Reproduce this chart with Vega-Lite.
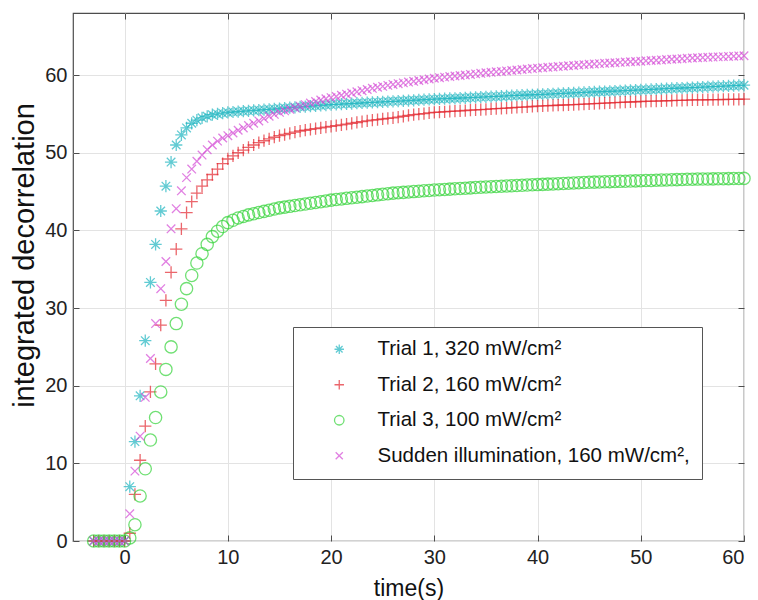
{
"$schema": "https://vega.github.io/schema/vega-lite/v6.json",
"width": 671, "height": 528,
"autosize": {"type": "none"},
"padding": {"left": 73, "top": 13, "right": 14, "bottom": 59},
"config": {
 "font": "Liberation Sans",
 "view": {"stroke": "#4d4d4d", "strokeWidth": 1.2},
 "axis": {"labelFontSize": 20, "titleFontWeight": "normal", "labelColor": "#222", "titleColor": "#111", "domain": false, "tickColor": "#4d4d4d", "tickSize": -6, "labelPadding": 12, "gridColor": "#e3e3e3", "gridWidth": 1},
 "legend": {"labelFontSize": 20.5, "labelColor": "#111", "labelLimit": 500, "strokeColor": "#555", "fillColor": "white", "padding": 12, "symbolOffset": 24, "labelOffset": 28, "rowPadding": 14.5, "symbolSize": 90, "symbolStrokeWidth": 1.3}
},
"datasets": {
"a": [{"t":-3,"v":0},{"t":-2.5,"v":0},{"t":-2,"v":0},{"t":-1.5,"v":0},{"t":-1,"v":0},{"t":-0.5,"v":0},{"t":0,"v":0},{"t":0.5,"v":7},{"t":1,"v":12.8},{"t":1.5,"v":18.7},{"t":2,"v":25.8},{"t":2.5,"v":33.3},{"t":3,"v":38.2},{"t":3.5,"v":42.5},{"t":4,"v":45.7},{"t":4.5,"v":48.8},{"t":5,"v":51},{"t":5.5,"v":52.3},{"t":6,"v":53.2},{"t":6.5,"v":53.8},{"t":7,"v":54.2},{"t":7.5,"v":54.5},{"t":8,"v":54.7},{"t":8.5,"v":54.9},{"t":9,"v":55},{"t":9.5,"v":55.1},{"t":10,"v":55.2},{"t":10.5,"v":55.25},{"t":11,"v":55.3},{"t":11.5,"v":55.35},{"t":12,"v":55.4},{"t":12.5,"v":55.45},{"t":13,"v":55.5},{"t":13.5,"v":55.55},{"t":14,"v":55.6},{"t":14.5,"v":55.65},{"t":15,"v":55.7},{"t":15.5,"v":55.75},{"t":16,"v":55.8},{"t":16.5,"v":55.85},{"t":17,"v":55.9},{"t":17.5,"v":55.95},{"t":18,"v":56},{"t":18.5,"v":56.05},{"t":19,"v":56.1},{"t":19.5,"v":56.15},{"t":20,"v":56.2},{"t":20.5,"v":56.24},{"t":21,"v":56.27},{"t":21.5,"v":56.31},{"t":22,"v":56.34},{"t":22.5,"v":56.38},{"t":23,"v":56.41},{"t":23.5,"v":56.45},{"t":24,"v":56.48},{"t":24.5,"v":56.52},{"t":25,"v":56.55},{"t":25.5,"v":56.59},{"t":26,"v":56.62},{"t":26.5,"v":56.66},{"t":27,"v":56.69},{"t":27.5,"v":56.73},{"t":28,"v":56.76},{"t":28.5,"v":56.8},{"t":29,"v":56.83},{"t":29.5,"v":56.87},{"t":30,"v":56.9},{"t":30.5,"v":56.93},{"t":31,"v":56.96},{"t":31.5,"v":56.99},{"t":32,"v":57.02},{"t":32.5,"v":57.05},{"t":33,"v":57.08},{"t":33.5,"v":57.11},{"t":34,"v":57.14},{"t":34.5,"v":57.17},{"t":35,"v":57.2},{"t":35.5,"v":57.23},{"t":36,"v":57.26},{"t":36.5,"v":57.29},{"t":37,"v":57.32},{"t":37.5,"v":57.35},{"t":38,"v":57.38},{"t":38.5,"v":57.41},{"t":39,"v":57.44},{"t":39.5,"v":57.47},{"t":40,"v":57.5},{"t":40.5,"v":57.53},{"t":41,"v":57.56},{"t":41.5,"v":57.59},{"t":42,"v":57.62},{"t":42.5,"v":57.65},{"t":43,"v":57.68},{"t":43.5,"v":57.71},{"t":44,"v":57.74},{"t":44.5,"v":57.77},{"t":45,"v":57.8},{"t":45.5,"v":57.83},{"t":46,"v":57.86},{"t":46.5,"v":57.89},{"t":47,"v":57.92},{"t":47.5,"v":57.95},{"t":48,"v":57.98},{"t":48.5,"v":58.01},{"t":49,"v":58.04},{"t":49.5,"v":58.07},{"t":50,"v":58.1},{"t":50.5,"v":58.13},{"t":51,"v":58.16},{"t":51.5,"v":58.19},{"t":52,"v":58.22},{"t":52.5,"v":58.25},{"t":53,"v":58.28},{"t":53.5,"v":58.31},{"t":54,"v":58.34},{"t":54.5,"v":58.37},{"t":55,"v":58.4},{"t":55.5,"v":58.43},{"t":56,"v":58.46},{"t":56.5,"v":58.49},{"t":57,"v":58.52},{"t":57.5,"v":58.55},{"t":58,"v":58.58},{"t":58.5,"v":58.61},{"t":59,"v":58.64},{"t":59.5,"v":58.67},{"t":60,"v":58.7}],
"b": [{"t":-3,"v":0},{"t":-2.5,"v":0},{"t":-2,"v":0},{"t":-1.5,"v":0},{"t":-1,"v":0},{"t":-0.5,"v":0},{"t":0,"v":0},{"t":0.5,"v":1},{"t":1,"v":6},{"t":1.5,"v":10.4},{"t":2,"v":14.8},{"t":2.5,"v":19.2},{"t":3,"v":22.8},{"t":3.5,"v":27.8},{"t":4,"v":31},{"t":4.5,"v":34.6},{"t":5,"v":37.6},{"t":5.5,"v":40.2},{"t":6,"v":42.3},{"t":6.5,"v":43.7},{"t":7,"v":44.8},{"t":7.5,"v":45.7},{"t":8,"v":46.5},{"t":8.5,"v":47.2},{"t":9,"v":47.9},{"t":9.5,"v":48.6},{"t":10,"v":49.2},{"t":10.5,"v":49.6},{"t":11,"v":50},{"t":11.5,"v":50.35},{"t":12,"v":50.7},{"t":12.5,"v":51},{"t":13,"v":51.3},{"t":13.5,"v":51.55},{"t":14,"v":51.8},{"t":14.5,"v":52},{"t":15,"v":52.2},{"t":15.5,"v":52.35},{"t":16,"v":52.5},{"t":16.5,"v":52.65},{"t":17,"v":52.8},{"t":17.5,"v":52.9},{"t":18,"v":53},{"t":18.5,"v":53.1},{"t":19,"v":53.2},{"t":19.5,"v":53.3},{"t":20,"v":53.4},{"t":20.5,"v":53.5},{"t":21,"v":53.6},{"t":21.5,"v":53.7},{"t":22,"v":53.8},{"t":22.5,"v":53.9},{"t":23,"v":54},{"t":23.5,"v":54.1},{"t":24,"v":54.2},{"t":24.5,"v":54.28},{"t":25,"v":54.35},{"t":25.5,"v":54.43},{"t":26,"v":54.5},{"t":26.5,"v":54.6},{"t":27,"v":54.7},{"t":27.5,"v":54.8},{"t":28,"v":54.9},{"t":28.5,"v":54.98},{"t":29,"v":55.05},{"t":29.5,"v":55.13},{"t":30,"v":55.2},{"t":30.5,"v":55.24},{"t":31,"v":55.28},{"t":31.5,"v":55.32},{"t":32,"v":55.36},{"t":32.5,"v":55.4},{"t":33,"v":55.44},{"t":33.5,"v":55.48},{"t":34,"v":55.52},{"t":34.5,"v":55.56},{"t":35,"v":55.6},{"t":35.5,"v":55.64},{"t":36,"v":55.68},{"t":36.5,"v":55.72},{"t":37,"v":55.76},{"t":37.5,"v":55.8},{"t":38,"v":55.84},{"t":38.5,"v":55.88},{"t":39,"v":55.92},{"t":39.5,"v":55.96},{"t":40,"v":56},{"t":40.5,"v":56.03},{"t":41,"v":56.06},{"t":41.5,"v":56.09},{"t":42,"v":56.12},{"t":42.5,"v":56.15},{"t":43,"v":56.18},{"t":43.5,"v":56.21},{"t":44,"v":56.24},{"t":44.5,"v":56.27},{"t":45,"v":56.3},{"t":45.5,"v":56.33},{"t":46,"v":56.36},{"t":46.5,"v":56.39},{"t":47,"v":56.42},{"t":47.5,"v":56.45},{"t":48,"v":56.48},{"t":48.5,"v":56.51},{"t":49,"v":56.54},{"t":49.5,"v":56.57},{"t":50,"v":56.6},{"t":50.5,"v":56.62},{"t":51,"v":56.64},{"t":51.5,"v":56.66},{"t":52,"v":56.68},{"t":52.5,"v":56.7},{"t":53,"v":56.72},{"t":53.5,"v":56.74},{"t":54,"v":56.76},{"t":54.5,"v":56.78},{"t":55,"v":56.8},{"t":55.5,"v":56.81},{"t":56,"v":56.82},{"t":56.5,"v":56.83},{"t":57,"v":56.84},{"t":57.5,"v":56.85},{"t":58,"v":56.86},{"t":58.5,"v":56.87},{"t":59,"v":56.88},{"t":59.5,"v":56.89},{"t":60,"v":56.9}],
"c": [{"t":-3,"v":0},{"t":-2.5,"v":0},{"t":-2,"v":0},{"t":-1.5,"v":0},{"t":-1,"v":0},{"t":-0.5,"v":0},{"t":0,"v":0},{"t":0.5,"v":0.4},{"t":1,"v":2.1},{"t":1.5,"v":5.8},{"t":2,"v":9.3},{"t":2.5,"v":13},{"t":3,"v":15.9},{"t":3.5,"v":19.2},{"t":4,"v":22.1},{"t":4.5,"v":25},{"t":5,"v":28},{"t":5.5,"v":30.5},{"t":6,"v":32.5},{"t":6.5,"v":34.2},{"t":7,"v":35.8},{"t":7.5,"v":37},{"t":8,"v":38.2},{"t":8.5,"v":39.2},{"t":9,"v":39.9},{"t":9.5,"v":40.5},{"t":10,"v":41},{"t":10.5,"v":41.3},{"t":11,"v":41.6},{"t":11.5,"v":41.8},{"t":12,"v":42},{"t":12.5,"v":42.15},{"t":13,"v":42.3},{"t":13.5,"v":42.45},{"t":14,"v":42.6},{"t":14.5,"v":42.75},{"t":15,"v":42.9},{"t":15.5,"v":43},{"t":16,"v":43.1},{"t":16.5,"v":43.2},{"t":17,"v":43.3},{"t":17.5,"v":43.4},{"t":18,"v":43.5},{"t":18.5,"v":43.6},{"t":19,"v":43.7},{"t":19.5,"v":43.8},{"t":20,"v":43.9},{"t":20.5,"v":43.98},{"t":21,"v":44.05},{"t":21.5,"v":44.13},{"t":22,"v":44.2},{"t":22.5,"v":44.28},{"t":23,"v":44.35},{"t":23.5,"v":44.43},{"t":24,"v":44.5},{"t":24.5,"v":44.58},{"t":25,"v":44.65},{"t":25.5,"v":44.73},{"t":26,"v":44.8},{"t":26.5,"v":44.85},{"t":27,"v":44.9},{"t":27.5,"v":44.95},{"t":28,"v":45},{"t":28.5,"v":45.05},{"t":29,"v":45.1},{"t":29.5,"v":45.15},{"t":30,"v":45.2},{"t":30.5,"v":45.24},{"t":31,"v":45.28},{"t":31.5,"v":45.32},{"t":32,"v":45.36},{"t":32.5,"v":45.4},{"t":33,"v":45.44},{"t":33.5,"v":45.48},{"t":34,"v":45.52},{"t":34.5,"v":45.56},{"t":35,"v":45.6},{"t":35.5,"v":45.63},{"t":36,"v":45.66},{"t":36.5,"v":45.69},{"t":37,"v":45.72},{"t":37.5,"v":45.75},{"t":38,"v":45.78},{"t":38.5,"v":45.81},{"t":39,"v":45.84},{"t":39.5,"v":45.87},{"t":40,"v":45.9},{"t":40.5,"v":45.93},{"t":41,"v":45.96},{"t":41.5,"v":45.99},{"t":42,"v":46.02},{"t":42.5,"v":46.05},{"t":43,"v":46.08},{"t":43.5,"v":46.11},{"t":44,"v":46.14},{"t":44.5,"v":46.17},{"t":45,"v":46.2},{"t":45.5,"v":46.22},{"t":46,"v":46.24},{"t":46.5,"v":46.26},{"t":47,"v":46.28},{"t":47.5,"v":46.3},{"t":48,"v":46.32},{"t":48.5,"v":46.34},{"t":49,"v":46.36},{"t":49.5,"v":46.38},{"t":50,"v":46.4},{"t":50.5,"v":46.42},{"t":51,"v":46.44},{"t":51.5,"v":46.46},{"t":52,"v":46.48},{"t":52.5,"v":46.5},{"t":53,"v":46.52},{"t":53.5,"v":46.54},{"t":54,"v":46.56},{"t":54.5,"v":46.58},{"t":55,"v":46.6},{"t":55.5,"v":46.61},{"t":56,"v":46.62},{"t":56.5,"v":46.63},{"t":57,"v":46.64},{"t":57.5,"v":46.65},{"t":58,"v":46.66},{"t":58.5,"v":46.67},{"t":59,"v":46.68},{"t":59.5,"v":46.69},{"t":60,"v":46.7}],
"d": [{"t":-3,"v":0},{"t":-2.5,"v":0},{"t":-2,"v":0},{"t":-1.5,"v":0},{"t":-1,"v":0},{"t":-0.5,"v":0},{"t":0,"v":0},{"t":0.5,"v":3.5},{"t":1,"v":9},{"t":1.5,"v":13.5},{"t":2,"v":18.5},{"t":2.5,"v":23.5},{"t":3,"v":28},{"t":3.5,"v":32.5},{"t":4,"v":36},{"t":4.5,"v":40.2},{"t":5,"v":42.8},{"t":5.5,"v":45.1},{"t":6,"v":46.8},{"t":6.5,"v":47.9},{"t":7,"v":48.9},{"t":7.5,"v":49.7},{"t":8,"v":50.4},{"t":8.5,"v":51},{"t":9,"v":51.5},{"t":9.5,"v":51.9},{"t":10,"v":52.2},{"t":10.5,"v":52.55},{"t":11,"v":52.9},{"t":11.5,"v":53.2},{"t":12,"v":53.5},{"t":12.5,"v":53.8},{"t":13,"v":54.1},{"t":13.5,"v":54.4},{"t":14,"v":54.7},{"t":14.5,"v":54.95},{"t":15,"v":55.2},{"t":15.5,"v":55.4},{"t":16,"v":55.6},{"t":16.5,"v":55.8},{"t":17,"v":56},{"t":17.5,"v":56.2},{"t":18,"v":56.4},{"t":18.5,"v":56.6},{"t":19,"v":56.8},{"t":19.5,"v":56.95},{"t":20,"v":57.1},{"t":20.5,"v":57.25},{"t":21,"v":57.4},{"t":21.5,"v":57.55},{"t":22,"v":57.7},{"t":22.5,"v":57.85},{"t":23,"v":58},{"t":23.5,"v":58.15},{"t":24,"v":58.3},{"t":24.5,"v":58.43},{"t":25,"v":58.55},{"t":25.5,"v":58.68},{"t":26,"v":58.8},{"t":26.5,"v":58.9},{"t":27,"v":59},{"t":27.5,"v":59.1},{"t":28,"v":59.2},{"t":28.5,"v":59.3},{"t":29,"v":59.4},{"t":29.5,"v":59.5},{"t":30,"v":59.6},{"t":30.5,"v":59.67},{"t":31,"v":59.74},{"t":31.5,"v":59.81},{"t":32,"v":59.88},{"t":32.5,"v":59.95},{"t":33,"v":60.02},{"t":33.5,"v":60.09},{"t":34,"v":60.16},{"t":34.5,"v":60.23},{"t":35,"v":60.3},{"t":35.5,"v":60.36},{"t":36,"v":60.42},{"t":36.5,"v":60.48},{"t":37,"v":60.54},{"t":37.5,"v":60.6},{"t":38,"v":60.66},{"t":38.5,"v":60.72},{"t":39,"v":60.78},{"t":39.5,"v":60.84},{"t":40,"v":60.9},{"t":40.5,"v":60.95},{"t":41,"v":61},{"t":41.5,"v":61.05},{"t":42,"v":61.1},{"t":42.5,"v":61.15},{"t":43,"v":61.2},{"t":43.5,"v":61.25},{"t":44,"v":61.3},{"t":44.5,"v":61.35},{"t":45,"v":61.4},{"t":45.5,"v":61.44},{"t":46,"v":61.48},{"t":46.5,"v":61.52},{"t":47,"v":61.56},{"t":47.5,"v":61.6},{"t":48,"v":61.64},{"t":48.5,"v":61.68},{"t":49,"v":61.72},{"t":49.5,"v":61.76},{"t":50,"v":61.8},{"t":50.5,"v":61.84},{"t":51,"v":61.88},{"t":51.5,"v":61.92},{"t":52,"v":61.96},{"t":52.5,"v":62},{"t":53,"v":62.04},{"t":53.5,"v":62.08},{"t":54,"v":62.12},{"t":54.5,"v":62.16},{"t":55,"v":62.2},{"t":55.5,"v":62.23},{"t":56,"v":62.26},{"t":56.5,"v":62.29},{"t":57,"v":62.32},{"t":57.5,"v":62.35},{"t":58,"v":62.38},{"t":58.5,"v":62.41},{"t":59,"v":62.44},{"t":59.5,"v":62.47},{"t":60,"v":62.5}]
},
"resolve": {"axis": {"x": "independent", "y": "independent"}},
"layer": [
 {"data": {"name": "a"}, "mark": {"type": "point", "filled": false, "strokeWidth": 1.3, "size": 150},
  "encoding": {
   "x": {"field": "t", "type": "quantitative", "scale": {"domain": [-5, 60], "nice": false}, "axis": {"values": [0,10,20,30,40,50,60], "title": "time(s)", "titleFontSize": 23, "titlePadding": 10}},
   "y": {"field": "v", "type": "quantitative", "scale": {"domain": [0, 68], "nice": false}, "axis": {"values": [0,10,20,30,40,50,60], "title": "integrated decorrelation", "titleFontSize": 29, "titlePadding": 5, "titleY": 242}},
   "color": {"datum": "Trial 1, 320 mW/cm²", "scale": {"domain": ["Trial 1, 320 mW/cm²", "Trial 2, 160 mW/cm²", "Trial 3, 100 mW/cm²", "Sudden illumination, 160 mW/cm²,"], "range": ["#1fb6c1", "#e3262e", "#35d43a", "#d54bd6"]}, "legend": {"title": null, "orient": "none", "legendX": 220, "legendY": 314}},
   "shape": {"datum": "Trial 1, 320 mW/cm²", "scale": {"domain": ["Trial 1, 320 mW/cm²", "Trial 2, 160 mW/cm²", "Trial 3, 100 mW/cm²", "Sudden illumination, 160 mW/cm²,"], "range": ["M-1,0L1,0M0,-1L0,1M-0.7,-0.7L0.7,0.7M-0.7,0.7L0.7,-0.7", "M-1,0L1,0M0,-1L0,1", "circle", "M-0.75,-0.75L0.75,0.75M-0.75,0.75L0.75,-0.75"]}, "legend": {"title": null, "orient": "none", "legendX": 220, "legendY": 314}}
  }},
 {"data": {"name": "b"}, "mark": {"type": "point", "filled": false, "strokeWidth": 1.3, "size": 150},
  "encoding": {"x": {"field": "t", "type": "quantitative", "axis": null}, "y": {"field": "v", "type": "quantitative", "axis": null}, "color": {"datum": "Trial 2, 160 mW/cm²"}, "shape": {"datum": "Trial 2, 160 mW/cm²"}}},
 {"data": {"name": "c"}, "mark": {"type": "point", "filled": false, "strokeWidth": 1.3, "size": 150},
  "encoding": {"x": {"field": "t", "type": "quantitative", "axis": null}, "y": {"field": "v", "type": "quantitative", "axis": null}, "color": {"datum": "Trial 3, 100 mW/cm²"}, "shape": {"datum": "Trial 3, 100 mW/cm²"}}},
 {"data": {"name": "d"}, "mark": {"type": "point", "filled": false, "strokeWidth": 1.3, "size": 130},
  "encoding": {"x": {"field": "t", "type": "quantitative", "axis": null}, "y": {"field": "v", "type": "quantitative", "axis": null}, "color": {"datum": "Sudden illumination, 160 mW/cm²,"}, "shape": {"datum": "Sudden illumination, 160 mW/cm²,"}}},
 {"data": {"name": "d"}, "mark": {"type": "point", "opacity": 0},
  "encoding": {"x": {"field": "t", "type": "quantitative", "axis": {"orient": "top", "values": [0,10,20,30,40,50,60], "labels": false, "grid": false, "title": null, "tickSize": -6}}, "y": {"field": "v", "type": "quantitative", "axis": {"orient": "right", "values": [0,10,20,30,40,50,60], "labels": false, "grid": false, "title": null, "tickSize": -6}}}}
]
}
